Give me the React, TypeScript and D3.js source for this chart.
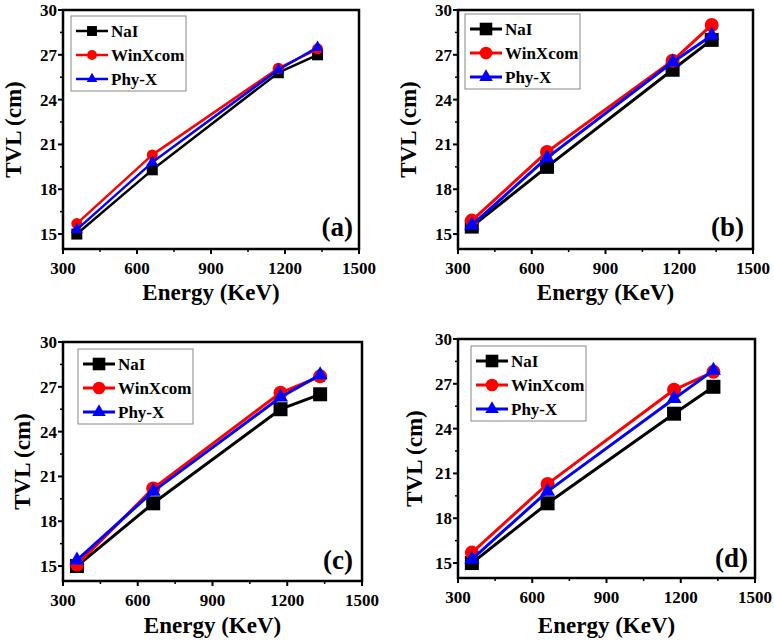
import React from 'react'
import * as d3 from 'd3'

// photon energies (KeV)
const energies = [356, 662, 1173, 1332]

// TVL values (cm) per sample
const naiA = [15.0, 19.3, 25.8, 27.0]
const winA = [15.7, 20.3, 26.1, 27.4]
const phyA = [15.3, 19.8, 26.0, 27.5]

const naiB = [15.5, 19.5, 26.0, 28.0]
const winB = [15.9, 20.5, 26.6, 29.0]
const phyB = [15.6, 20.1, 26.5, 28.3]

const naiC = [15.0, 19.2, 25.5, 26.5]
const winC = [15.1, 20.2, 26.6, 27.7]
const phyC = [15.4, 20.0, 26.3, 27.8]

const naiD = [15.0, 19.0, 25.0, 26.8]
const winD = [15.7, 20.3, 26.6, 27.8]
const phyD = [15.25, 19.8, 26.0, 27.9]

const seriesNames = ['NaI', 'WinXcom', 'Phy-X']
const seriesColors = ['#000000', '#ff0000', '#0000ff']
const seriesShapes = [d3.symbolSquare, d3.symbolCircle, d3.symbolTriangle]

const xTicks = [300, 600, 900, 1200, 1500]
const yTicks = [15, 18, 21, 24, 27, 30]
const panelLabels = ['(a)', '(b)', '(c)', '(d)']

const textStyle = {fontFamily: 'Liberation Serif, DejaVu Serif, serif', fontWeight: 700}

type Box = {left: number, right: number, top: number, bottom: number}

type PanelProps = {
    box: Box
    data: number[][]
    label: string
    legendX: number
    legendY: number
    markerSize: number
    lineWidth: number
    xTitleY: number
    yTitleX: number
    labelX: number
    labelY: number
}

const Marker = ({shape, size, x, y, color}: {shape: d3.SymbolType, size: number, x: number, y: number, color: string}) => {
    // d3.symbol takes an area; scale it so the marker is roughly `size` across
    const area = shape === d3.symbolTriangle ? size * size * 0.5 : shape === d3.symbolCircle ? Math.PI * (size / 2) ** 2 : size * size
    const path = d3.symbol().type(shape).size(area)() || ''
    return <path d={path} transform={`translate(${x},${y})`} fill={color} />
}

const Panel = (props: PanelProps) => {
    const {box, data, markerSize, lineWidth} = props

    const x = d3.scaleLinear().domain([300, 1500]).range([box.left, box.right])
    const y = d3.scaleLinear().domain([14, 30]).range([box.bottom, box.top])

    const line = d3.line<number>()
        .x((d, i) => x(energies[i]))
        .y(d => y(d))

    const xMinor = d3.range(450, 1500, 300)
    const yMinor = d3.range(16.5, 30, 3)

    const legendW = 115
    const legendH = 75

    return (
        <g>
            {/* series lines, then markers on top */}
            {data.map((vals, si) => (
                <g key={si}>
                    <path d={line(vals) || ''} fill="none" stroke={seriesColors[si]} strokeWidth={lineWidth} strokeLinejoin="round" />
                    {vals.map((v, i) => (
                        <Marker key={i} shape={seriesShapes[si]} size={markerSize} x={x(energies[i])} y={y(v)} color={seriesColors[si]} />
                    ))}
                </g>
            ))}

            {/* frame */}
            <rect x={box.left} y={box.top} width={box.right - box.left} height={box.bottom - box.top}
                fill="none" stroke="#000" strokeWidth={2.5} />

            {/* x ticks */}
            {xTicks.map(t => (
                <g key={t}>
                    <line x1={x(t)} x2={x(t)} y1={box.bottom} y2={box.bottom + 5} stroke="#000" strokeWidth={2} />
                    <text style={textStyle} x={x(t)} y={box.bottom + 25} textAnchor="middle" fontSize={17}>{t}</text>
                </g>
            ))}
            {xMinor.map(t => (
                <line key={t} x1={x(t)} x2={x(t)} y1={box.bottom} y2={box.bottom + 3} stroke="#000" strokeWidth={1.5} />
            ))}

            {/* y ticks */}
            {yTicks.map(t => (
                <g key={t}>
                    <line x1={box.left - 5} x2={box.left} y1={y(t)} y2={y(t)} stroke="#000" strokeWidth={2} />
                    <text style={textStyle} x={box.left - 6} y={y(t) + 6} textAnchor="end" fontSize={17}>{t}</text>
                </g>
            ))}
            {yMinor.map(t => (
                <line key={t} x1={box.left - 3} x2={box.left} y1={y(t)} y2={y(t)} stroke="#000" strokeWidth={1.5} />
            ))}

            {/* axis titles */}
            <text style={textStyle} x={(box.left + box.right) / 2} y={props.xTitleY} textAnchor="middle" fontSize={23}>Energy (KeV)</text>
            <text style={textStyle} transform={`translate(${props.yTitleX},${(box.top + box.bottom) / 2}) rotate(-90)`}
                textAnchor="middle" fontSize={23}>TVL (cm)</text>

            {/* panel label */}
            <text style={textStyle} x={props.labelX} y={props.labelY} textAnchor="end" fontSize={27}>{props.label}</text>

            {/* legend */}
            <g transform={`translate(${props.legendX},${props.legendY})`}>
                <rect x={0} y={0} width={legendW} height={legendH} fill="#fff" stroke="#888" strokeWidth={1} />
                {seriesNames.map((name, si) => (
                    <g key={name} transform={`translate(0,${15 + si * 24})`}>
                        <line x1={5} x2={37} y1={0} y2={0} stroke={seriesColors[si]} strokeWidth={lineWidth} />
                        <Marker shape={seriesShapes[si]} size={markerSize * 0.9} x={21} y={0} color={seriesColors[si]} />
                        <text style={textStyle} x={40} y={6} fontSize={17}>{name}</text>
                    </g>
                ))}
            </g>
        </g>
    )
}

const App = () => {
    const panels: PanelProps[] = [
        {box: {left: 63, right: 359, top: 10, bottom: 249}, data: [naiA, winA, phyA], label: panelLabels[0],
            legendX: 71, legendY: 16, markerSize: 11, lineWidth: 2.5, xTitleY: 300, yTitleX: 21, labelX: 353, labelY: 236},
        {box: {left: 458, right: 753, top: 10, bottom: 249}, data: [naiB, winB, phyB], label: panelLabels[1],
            legendX: 465, legendY: 14, markerSize: 14, lineWidth: 3, xTitleY: 300, yTitleX: 416, labelX: 744, labelY: 236},
        {box: {left: 63, right: 362, top: 342, bottom: 581}, data: [naiC, winC, phyC], label: panelLabels[2],
            legendX: 78, legendY: 349, markerSize: 14, lineWidth: 3, xTitleY: 633, yTitleX: 30, labelX: 353, labelY: 569},
        {box: {left: 458, right: 755, top: 339, bottom: 578}, data: [naiD, winD, phyD], label: panelLabels[3],
            legendX: 471, legendY: 346, markerSize: 14, lineWidth: 3, xTitleY: 633, yTitleX: 422, labelX: 748, labelY: 567},
    ]

    return (
        <svg width={774} height={644} style={{position: 'absolute', left: 0, top: 0, background: '#fff'}}>
            <rect width={774} height={644} fill="#fff" />
            {panels.map((p, i) => <Panel key={i} {...p} />)}
        </svg>
    )
}

export default App
